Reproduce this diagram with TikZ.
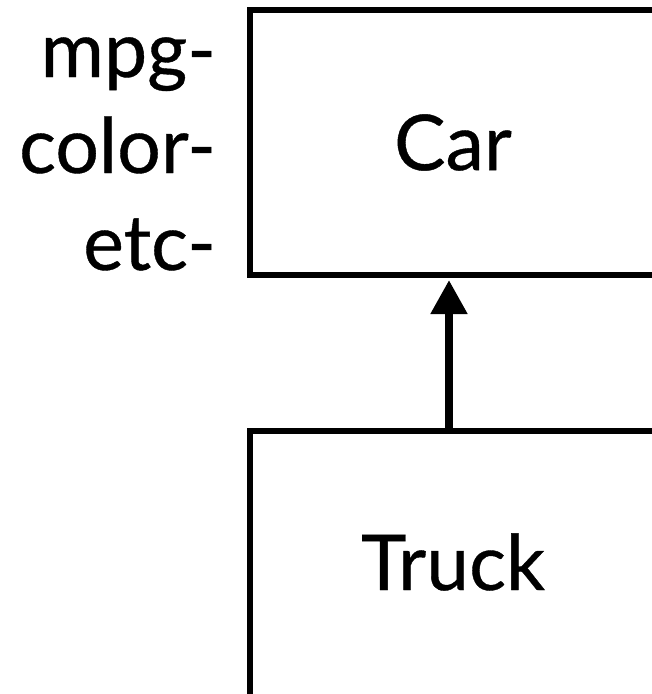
\documentclass[tikz,border=0pt]{standalone}
\usepackage{fontspec}
\setsansfont{Lato}
\newfontfamily\diagramfont{Lato}[FakeBold=0.5]
\usetikzlibrary{arrows.meta, positioning}

\begin{document}
\begin{tikzpicture}[font=\diagramfont, x=1pt, y=-1pt,
    classbox/.style={draw=black, line width=5.5pt, rectangle, inner sep=0pt, outer sep=0pt, minimum width=406pt},
    classname/.style={font=\diagramfont\fontsize{77}{80}\selectfont, inner sep=0pt},
    attrname/.style={font=\diagramfont\fontsize{77}{96}\selectfont, inner sep=0pt, anchor=base east}]

    % --- FRAME ---
    \useasboundingbox (0,0) rectangle (652,694);
    \clip (0,0) rectangle (652,694);

    % --- SUPERCLASS: CAR ---
    \node[classbox, minimum height=265pt] (car) at (453,142.5) {};
    \node[classname] (cartext) at (car.center) {Car};

    % Attributes
    \node[attrname] (mpg) at (216,77) {mpg-};
    \node[attrname] (color) at (216,173) {color-};
    \node[attrname] (etc) at (216,270) {etc-};

    % --- SUBCLASS: TRUCK ---
    \node[classbox, minimum height=300pt, anchor=north] (truck) at (453,431) {};
    \node[classname] (trucktext) at ([yshift=-131pt]truck.north) {Truck};

    % --- INHERITANCE ARROW ---
    \draw[-{Triangle[length=34pt, width=35pt]}, line width=8pt, shorten >=5pt]
        ([xshift=-4pt]truck.north) -- ([xshift=-4pt]car.south);
\end{tikzpicture}
\end{document}
